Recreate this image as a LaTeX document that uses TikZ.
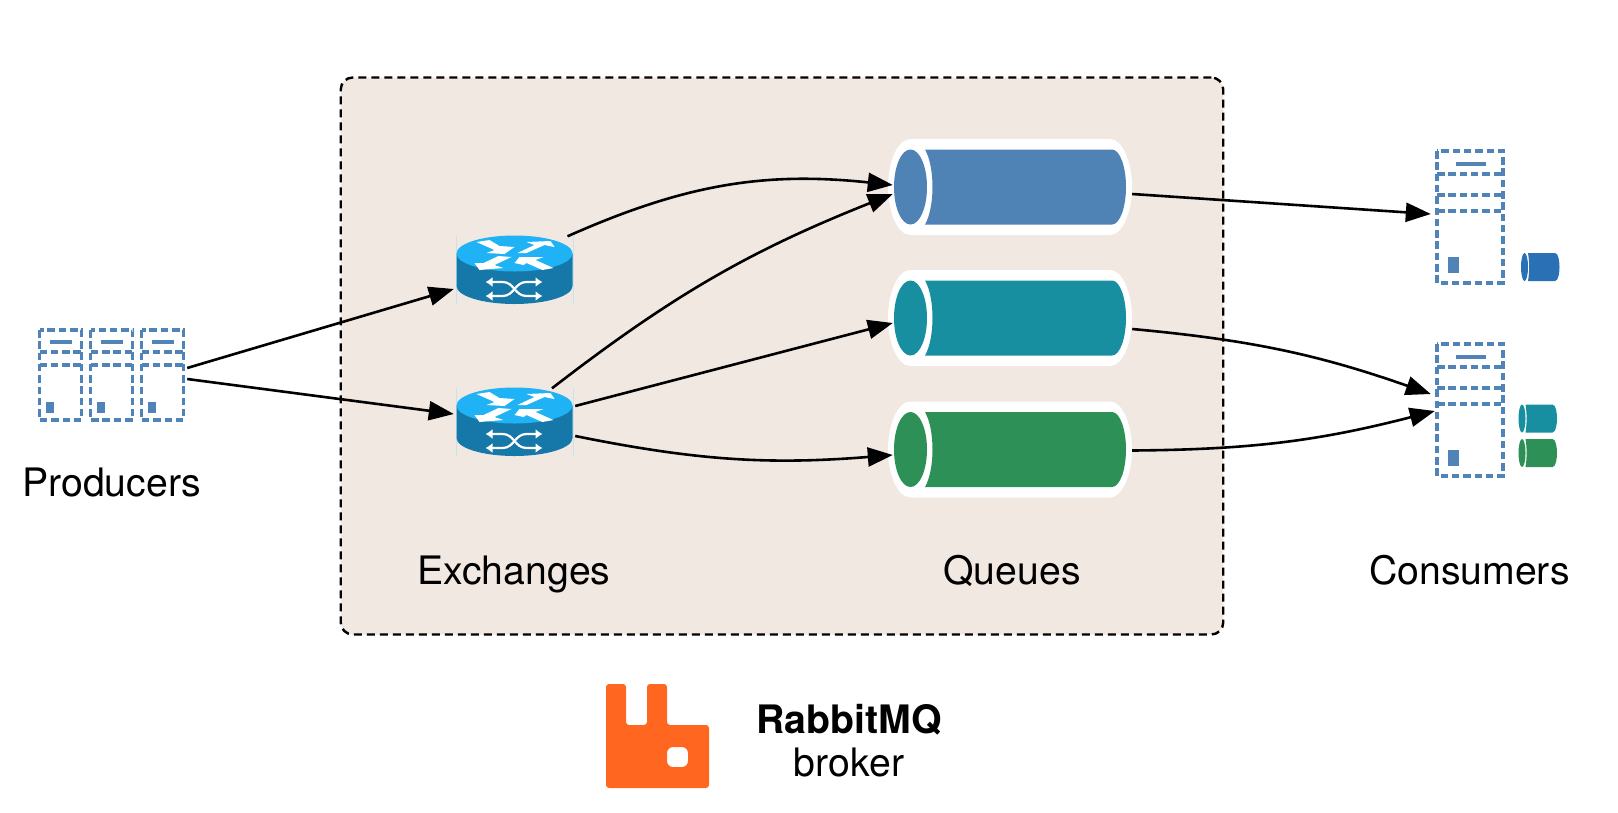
\documentclass[tikz,border=0pt]{standalone}
\usepackage{fontspec}
\setmainfont{TeX Gyre Heros}
\usetikzlibrary{arrows.meta}
\usetikzlibrary{positioning}

\definecolor{brokerbg}{HTML}{F2E8E2}
\definecolor{serverblue}{HTML}{5083B8}
\definecolor{queueblue}{HTML}{4F82B5}
\definecolor{queueteal}{HTML}{178FA0}
\definecolor{queuegreen}{HTML}{2D9056}
\definecolor{tagblue}{HTML}{2A70B5}
\definecolor{routertop}{HTML}{1FB3F5}
\definecolor{routerside}{HTML}{1678A8}
\definecolor{routeredge}{HTML}{C4E4F0}
\definecolor{rabbitorange}{HTML}{FF6720}

\tikzset{
  label text/.style={font=\fontsize{39.2}{44}\selectfont, inner sep=0pt, anchor=base},
  anchor box/.style={inner sep=0pt, minimum width=#1},
  link/.style={-{Triangle[length=25pt,width=19pt]}, line width=2.6pt},
  server line/.style={serverblue, line width=3.4pt, dash pattern=on 7.5pt off 3.8pt},
  server/.pic={
    \draw[server line] (-21,-45) rectangle (21,45);
    \draw[server line] (-21,-23) -- (21,-23);
    \draw[server line] (-21,-10) -- (21,-10);
    \draw[serverblue, line width=3.4pt] (-11,-33) -- (11,-33);
    \fill[serverblue] (-15,27) rectangle (-7,38);
  },
  tower/.pic={
    \draw[server line] (-33,-66) rectangle (33,66);
    \draw[server line] (-33,-43) -- (33,-43);
    \draw[server line] (-33,-22) -- (33,-22);
    \draw[server line] (-33,-6) -- (33,-6);
    \draw[serverblue, line width=3.4pt] (-14,-53) -- (16,-53);
    \fill[serverblue] (-22,40) rectangle (-11,56);
  },
  router/.pic={
    \draw[routeredge, line width=1pt] (-58.5,-34) -- (-58.5,34);
    \draw[routeredge, line width=1pt] (58.5,-34) -- (58.5,34);
    \fill[routerside] (-58,-16.5) -- (58,-16.5) -- (58,16) .. controls (58,26) and (32,34) .. (0,34) .. controls (-32,34) and (-58,26) .. (-58,16) -- cycle;
    \fill[routertop] (0,-16.5) ellipse[x radius=58, y radius=18];
    % top arrows
    \fill[white] (-38,-28) -- (-25,-30) -- (-15,-24) -- (0,-23) -- (-10,-16) -- (-28,-17) -- (-20,-20) -- cycle;
    \fill[white] (3,-17) -- (20,-25) -- (12,-28) -- (36,-29) -- (40,-23) -- (30,-25) -- (12,-17) -- cycle;
    \fill[white] (-40,-7) -- (-31,-7) -- (-16,-14) -- (-3,-13) -- (-20,-5) -- (-11,-2) -- (-35,0) -- cycle;
    \fill[white] (5,-13) -- (29,-13) -- (21,-10) -- (39,-2) -- (28,0) -- (12,-7) -- (9,-5) -- (0,-7) -- cycle;
    % shuffle sign on the side
    \draw[white, line width=2.2pt, {Latex[length=7pt,width=10pt]}-{Latex[length=7pt,width=10pt]}] (-29,12) -- (-12,12) .. controls (0,12) and (0,26) .. (12,26) -- (28,26);
    \draw[white, line width=2.2pt, {Latex[length=7pt,width=10pt]}-{Latex[length=7pt,width=10pt]}] (-29,26) -- (-12,26) .. controls (0,26) and (0,12) .. (12,12) -- (28,12);
  },
  queue/.pic={
    \fill[white] (-99.5,-48) -- (100,-48) .. controls (112,-48) and (122,-26) .. (122,0) .. controls (122,26) and (112,48) .. (100,48) -- (-99.5,48) .. controls (-112,48) and (-122,26) .. (-122,0) .. controls (-122,-26) and (-112,-48) .. (-99.5,-48) -- cycle;
    \fill[#1] (-85,-37.5) -- (102,-37.5) .. controls (110,-37.5) and (116,-20) .. (116,0) .. controls (116,20) and (110,37.5) .. (102,37.5) -- (-85,37.5) .. controls (-75,20) and (-75,-20) .. (-85,-37.5) -- cycle;
    \fill[#1] (-99.5,0) ellipse[x radius=16.5, y radius=37.5];
  },
  tag/.pic={
    \fill[#1] (-12,-14) -- (15,-14) .. controls (18.5,-14) and (19.5,-5) .. (19.5,0) .. controls (19.5,5) and (18.5,14) .. (15,14) -- (-12,14) .. controls (-10.5,5) and (-10.5,-5) .. (-12,-14) -- cycle;
    \fill[#1] (-15.5,0) ellipse[x radius=3.5, y radius=14];
  }
}

\begin{document}
\begin{tikzpicture}[x=1pt, y=-1pt]
  \useasboundingbox (0,0) rectangle (1618,812);

  % broker area
  \node[draw, fill=brokerbg, line width=2.4pt, rounded corners=12pt, dash pattern=on 8pt off 5pt,
        minimum width=882.5pt, minimum height=557pt, inner sep=0pt] (broker) at (782,356) {};

  % producers
  \foreach \x in {60.5,111.7,162.5} {
    \pic at (\x,375) {server};
  }
  \node[anchor box=152pt, minimum height=90pt] (producers) at (111,375) {};

  % consumers
  \pic at (1470,217) {tower};
  \pic at (1470,410) {tower};
  \node[anchor box=78pt, minimum height=132pt] (consumerA) at (1470,217) {};
  \node[anchor box=78pt, minimum height=132pt] (consumerB) at (1470,410) {};
  \pic at (1540,267) {tag={tagblue}};
  \pic at (1537.5,418.5) {tag={queueteal}};
  \pic at (1537.5,453) {tag={queuegreen}};

  % exchanges
  \pic at (514.5,270) {router};
  \pic at (514.5,422) {router};
  \node[anchor box=121pt, minimum height=67pt] (routerA) at (514.5,270) {};
  \node[anchor box=121pt, minimum height=67pt] (routerB) at (514.5,422) {};

  % queues
  \foreach \name/\y/\col in {queueA/187/queueblue, queueB/318/queueteal, queueC/449.5/queuegreen} {
    \pic at (1010,\y) {queue={\col}};
    \node[anchor box=244pt, minimum height=96pt] (\name) at (1010,\y) {};
  }

  % connectors
  \draw[link] ([yshift=7pt]producers.east) -- ([yshift=-19pt]routerA.west);
  \draw[link] ([yshift=-4pt]producers.east) -- ([yshift=8pt]routerB.west);
  \draw[link] ([xshift=53pt]routerA.north) to[bend left=15] ([xshift=5pt,yshift=2pt]queueA.west);
  \draw[link] ([xshift=37.5pt]routerB.north) to[bend left=8] ([xshift=5pt,yshift=-7pt]queueA.west);
  \draw[link] ([yshift=16pt]routerB.east) -- ([xshift=5pt,yshift=-5pt]queueB.west);
  \draw[link] ([yshift=-14pt]routerB.east) to[bend right=8] ([xshift=5pt,yshift=-5.5pt]queueC.west);
  \draw[link] ([yshift=-7pt]queueA.east) -- ([yshift=3pt]consumerA.west);
  \draw[link] ([yshift=-11pt]queueB.east) to[bend left=7] ([yshift=16pt]consumerB.west);
  \draw[link] ([yshift=-1pt]queueC.east) to[bend right=7] ([xshift=4pt,yshift=-1pt]consumerB.west);

  % labels
  \node[label text] (producersText) at (111.5,496) {Producers};
  \node[label text] (exchangesText) at (514,584) {Exchanges};
  \node[label text] (queuesText) at (1012,584) {Queues};
  \node[label text] (consumersText) at (1469.5,584) {Consumers};
  \node[label text, font=\fontsize{39.2}{44}\selectfont\bfseries] (rabbitText) at (849,733) {RabbitMQ};
  \node[label text] (brokerText) at (849,776.5) {broker};

  % logo
  \fill[rabbitorange, even odd rule, rounded corners=3pt]
    (606,684) -- (626,684) -- (626,725) -- (647,725) -- (647,684) -- (667,684) -- (667,725) -- (709,725) -- (709,788) -- (606,788) -- cycle
    [rounded corners=6pt] (667,747) -- (688,747) -- (688,767) -- (667,767) -- cycle;
\end{tikzpicture}
\end{document}
